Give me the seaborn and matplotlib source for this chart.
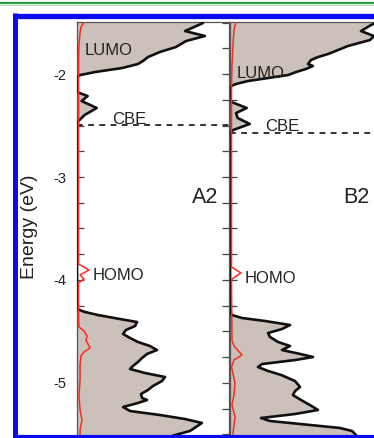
import numpy as np
import pandas as pd
import matplotlib
matplotlib.use("Agg")
import matplotlib.pyplot as plt
from matplotlib.lines import Line2D
import seaborn as sns

# ---------------- data (energy in eV, DOS in arbitrary units 0-100) ----------------
# Panel A2 total DOS (black curve, grey fill)
a2_energy = [-1.427, -1.505, -1.583, -1.631, -1.680, -1.738, -1.786, -1.835, -1.874,
             -1.903, -1.942, -1.981, -2.010, -2.029,
             -2.175, -2.214, -2.262, -2.330, -2.398, -2.456, -2.495,
             -4.282, -4.311, -4.340, -4.379, -4.408, -4.447, -4.485, -4.524, -4.563,
             -4.602, -4.641, -4.680, -4.718, -4.757, -4.796, -4.835, -4.864, -4.903,
             -4.942, -4.981, -5.029, -5.068, -5.107, -5.146, -5.165, -5.194, -5.233,
             -5.272, -5.311, -5.350, -5.388, -5.427, -5.466, -5.505, -5.553]
a2_dos = [80.0, 82.9, 71.1, 84.2, 71.7, 65.1, 54.6, 46.7, 43.4,
          40.1, 29.6, 11.8, 2.0, 0.0,
          0.0, 7.0, 3.0, 13.0, 5.0, 1.0, 0.0,
          0.0, 5.3, 13.8, 28.3, 39.5, 38.2, 32.2, 30.3, 34.9,
          40.1, 48.0, 52.6, 46.1, 42.8, 40.1, 36.8, 34.9, 44.7,
          57.9, 55.9, 50.0, 46.7, 42.1, 42.8, 46.1, 40.1, 30.3,
          34.9, 54.6, 71.1, 82.2, 78.3, 74.3, 64.5, 54.6]

# Panel A2 partial DOS (red curve)
a2_red_energy = [-1.427, -1.495, -1.544, -1.602, -1.718, -1.864, -3.845, -3.903, -3.951,
                 -3.990, -4.029, -4.388, -4.456, -4.495, -4.544, -4.583, -4.621, -4.660,
                 -4.699, -4.738, -4.825, -4.971, -5.117, -5.262, -5.359, -5.456, -5.553]
a2_red_dos = [4.6, 4.6, 2.6, 2.0, 1.3, 1.0, 1.0, 7.9, 2.0,
              4.6, 1.0, 1.0, 1.3, 4.6, 6.6, 5.9, 7.2, 8.6,
              4.6, 2.6, 2.0, 2.0, 1.3, 2.0, 3.3, 2.0, 2.0]

# Panel B2 total DOS
b2_energy = [-1.427, -1.495, -1.524, -1.583, -1.631, -1.670, -1.728, -1.767, -1.806,
             -1.835, -1.864, -1.903, -1.922, -1.951, -1.981, -2.010, -2.039, -2.068,
             -2.097, -2.117, -2.136,
             -2.233, -2.272, -2.330, -2.379, -2.427, -2.485, -2.544, -2.573,
             -4.311, -4.340, -4.369, -4.398, -4.437, -4.476, -4.515, -4.553, -4.602,
             -4.641, -4.680, -4.718, -4.748, -4.777, -4.816, -4.845, -4.883, -4.922,
             -4.981, -5.039, -5.078, -5.117, -5.165, -5.214, -5.262, -5.301, -5.340,
             -5.369, -5.398, -5.437, -5.466, -5.505, -5.553]
b2_dos = [97.0, 97.4, 92.8, 86.2, 94.7, 92.1, 77.6, 71.1, 64.5,
          57.9, 53.3, 51.3, 54.6, 50.0, 43.4, 38.2, 25.0, 11.8,
          3.9, 0.7, 0.0,
          0.0, 1.0, 11.0, 4.0, 5.0, 13.0, 2.0, 0.0,
          0.0, 1.3, 7.9, 23.0, 39.5, 34.2, 25.0, 26.3, 31.6,
          39.5, 34.2, 46.1, 54.6, 42.8, 21.1, 18.4, 25.0, 33.6,
          42.8, 46.1, 42.8, 41.4, 46.7, 52.6, 57.9, 42.8, 20.4,
          26.3, 46.1, 72.4, 80.3, 82.9, 84.2]

# Panel B2 partial DOS (red curve)
b2_red_energy = [-1.427, -1.495, -1.573, -1.718, -1.913, -2.107, -3.874, -3.932, -3.990,
                 -4.029, -4.583, -4.641, -4.728, -4.777, -4.845, -5.000, -5.117, -5.214,
                 -5.330, -5.485, -5.553]
b2_red_dos = [4.6, 3.9, 2.6, 2.0, 1.3, 1.0, 1.0, 7.2, 1.3,
              1.0, 1.3, 2.6, 7.9, 2.6, 1.0, 3.3, 2.6, 1.3,
              3.3, 2.0, 2.0]

# band-edge energies and labels
a2_cbe = -2.495
b2_cbe = -2.573
panel_names = ["A2", "B2"]
level_labels = ["LUMO", "CBE", "HOMO"]
a2_label_energy = [-1.816, -2.485, -4.000]
b2_label_energy = [-2.039, -2.553, -4.030]
ytick_values = [-5, -4, -3, -2]

# ---------------- style ----------------
sns.set_theme(style="white")
plt.rcParams["font.family"] = ["Liberation Sans", "DejaVu Sans"]
plt.rcParams["axes.unicode_minus"] = False

W, H = 374, 438
fig = plt.figure(figsize=(W / 100, H / 100), dpi=100, facecolor="white")

def fx(px):
    return px / W

def fy(py):
    return 1 - py / H

ax_bottom_px, ax_top_px = 435, 22
ax_w = 152
axA = fig.add_axes([fx(77), fy(ax_bottom_px), ax_w / W, (ax_bottom_px - ax_top_px) / H])
axB = fig.add_axes([fx(230), fy(ax_bottom_px), ax_w / W, (ax_bottom_px - ax_top_px) / H])

fill_col = "#cbc0ba"
line_col = "#111111"
red_col = "#ff2a1a"
spine_col = "#555555"
text_col = "#222222"

panels = [
    (axA, a2_energy, a2_dos, a2_red_energy, a2_red_dos, a2_cbe, a2_label_energy,
     [0.053, 0.23, 0.105], 0.757),
    (axB, b2_energy, b2_dos, b2_red_energy, b2_red_dos, b2_cbe, b2_label_energy,
     [0.046, 0.23, 0.099], 0.743),
]

for i, (ax, en, dos, ren, rdos, cbe, lab_e, lab_x, name_x) in enumerate(panels):
    df = pd.DataFrame({"E": en, "DOS": dos})
    rdf = pd.DataFrame({"E": ren, "DOS": rdos})
    ax.fill_betweenx(df["E"], 0, df["DOS"], color=fill_col, lw=0, zorder=1)
    sns.lineplot(data=df, x="DOS", y="E", sort=False, estimator=None, ax=ax,
                 color=line_col, lw=1.9, zorder=3, solid_joinstyle="round")
    sns.lineplot(data=rdf, x="DOS", y="E", sort=False, estimator=None, ax=ax,
                 color=red_col, lw=1.1, zorder=4)
    ax.axhline(cbe, color="#222222", lw=1.3, ls=(0, (3.2, 3.0)), zorder=2)
    ax.set_xlim(0, 100)
    ax.set_ylim(-5.505, -1.495)
    ax.set_xlabel("")
    ax.set_ylabel("")
    ax.set_xticks([])
    yt = np.arange(-5.5, -1.49, 0.25)
    ax.set_yticks(yt)
    if i == 0:
        ax.set_yticklabels([str(int(v)) if abs(v - round(v)) < 1e-9 and int(v) in ytick_values else "" for v in yt])
    else:
        ax.set_yticklabels([])
    ax.tick_params(axis="y", which="both", direction="in", length=5, width=0.9,
                   color="#444444", left=True, right=True, labelsize=10.5,
                   pad=8, labelcolor=text_col)
    for s in ["left", "right", "top"]:
        ax.spines[s].set_visible(True)
        ax.spines[s].set_color(spine_col)
        ax.spines[s].set_linewidth(0.9)
    ax.spines["bottom"].set_visible(False)
    trans = ax.get_yaxis_transform()
    for lab, e, x in zip(level_labels, lab_e, lab_x):
        ax.text(x, e, lab, transform=trans, fontsize=12, color=text_col,
                ha="left", va="baseline", zorder=5)
    ax.text(name_x, -3.252, panel_names[i], transform=trans, fontsize=15.5,
            color=text_col, ha="left", va="baseline", zorder=5)
    ax.set_facecolor("white")

fig.text(fx(29), fy(227), "Energy (eV)", rotation=90, ha="center", va="center",
         fontsize=14, color=text_col)

# page decorations: green rule and blue frame
fig.add_artist(Line2D([0, 1], [fy(2.5), fy(2.5)], transform=fig.transFigure,
                      color="#2e9a3e", lw=1.6))
fig.add_artist(Line2D([0, 1], [fy(5), fy(5)], transform=fig.transFigure,
                      color="#b6dcb6", lw=0.8))
blue = "#0a0af2"
fig.add_artist(Line2D([fx(15), fx(15)], [fy(13), fy(440)], transform=fig.transFigure,
                      color=blue, lw=3.6, solid_capstyle="butt"))
fig.add_artist(Line2D([fx(13), 1], [fy(15.5), fy(15.5)], transform=fig.transFigure,
                      color=blue, lw=3.8, solid_capstyle="butt"))
fig.add_artist(Line2D([fx(13), 1], [fy(437), fy(437)], transform=fig.transFigure,
                      color=blue, lw=3.0, solid_capstyle="butt"))

fig.savefig("out.png", dpi=100, facecolor="white")
